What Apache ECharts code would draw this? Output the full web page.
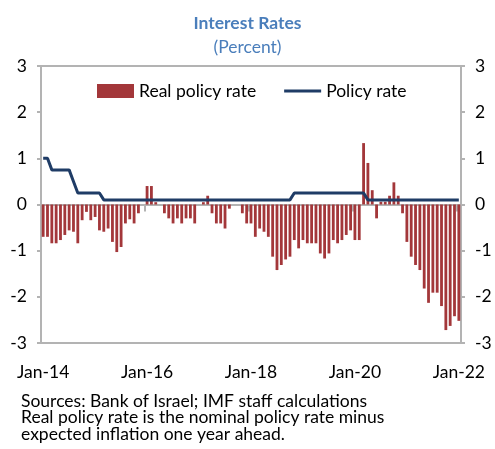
<!DOCTYPE html>
<html>
<head>
<meta charset="utf-8">
<script src="https://cdn.jsdelivr.net/npm/echarts@6/dist/echarts.min.js"></script>
<style>
html,body{margin:0;padding:0;background:#fff;}
#chart{width:495px;height:449px;}
</style>
</head>
<body>
<div id="chart"></div>
<script>
// Monthly categories Jan-14 .. Jan-22
var monthNames = ["Jan","Feb","Mar","Apr","May","Jun","Jul","Aug","Sep","Oct","Nov","Dec"];
var startYear = 14, endYear = 22;
var categories = [];
for (var y = startYear; y <= endYear; y++) {
  for (var m = 0; m < 12; m++) {
    if (y === endYear && m > 0) break;
    categories.push(monthNames[m] + "-" + y);
  }
}
var tickLabels = ["Jan-14","Jan-16","Jan-18","Jan-20","Jan-22"];

var realPolicyRate = [
  -0.70,-0.70,-0.84,-0.84,-0.77,-0.66,-0.56,-0.59,-0.84,-0.34,-0.16,-0.34,
  -0.27,-0.56,-0.59,-0.52,-0.81,-1.03,-0.92,-0.41,-0.32,-0.41,-0.19,0,
  0.40,0.40,0.05,0,-0.19,-0.30,-0.41,-0.30,-0.41,-0.30,-0.30,-0.41,
  0,0.05,0.19,-0.19,-0.41,-0.41,-0.52,-0.09,0,0,-0.19,-0.41,
  -0.41,-0.70,-0.52,-0.59,-0.70,-1.13,-1.42,-1.31,-1.19,-1.13,-0.77,-0.95,
  -0.77,-0.84,-0.84,-0.84,-1.06,-1.17,-1.06,-0.77,-0.84,-0.77,-0.66,-0.56,
  -0.77,-0.77,1.33,0.90,0.31,-0.30,0.06,0.06,0.19,0.48,0.19,-0.19,
  -0.81,-1.13,-1.31,-1.42,-1.82,-2.13,-1.91,-1.91,-2.20,-2.72,-2.63,-2.42,
  -2.52
];

var policyRate = [
  1.00,1.00,0.75,0.75,0.75,0.75,0.75,0.50,0.25,0.25,0.25,0.25,
  0.25,0.25,0.10,0.10,0.10,0.10,0.10,0.10,0.10,0.10,0.10,0.10,
  0.10,0.10,0.10,0.10,0.10,0.10,0.10,0.10,0.10,0.10,0.10,0.10,
  0.10,0.10,0.10,0.10,0.10,0.10,0.10,0.10,0.10,0.10,0.10,0.10,
  0.10,0.10,0.10,0.10,0.10,0.10,0.10,0.10,0.10,0.10,0.25,0.25,
  0.25,0.25,0.25,0.25,0.25,0.25,0.25,0.25,0.25,0.25,0.25,0.25,
  0.25,0.25,0.25,0.10,0.10,0.10,0.10,0.10,0.10,0.10,0.10,0.10,
  0.10,0.10,0.10,0.10,0.10,0.10,0.10,0.10,0.10,0.10,0.10,0.10,
  0.10
];

var FONT = "Lato";
var FS = 17.5;
var axisGrey = "#b3b3b3";
var chart = echarts.init(document.getElementById("chart"), null, {renderer: "canvas"});

var yAxisCommon = {
  type: "value", min: -3, max: 3, interval: 1,
  axisLine: {show: true, lineStyle: {color: axisGrey, width: 2}},
  axisTick: {show: true, length: 4, lineStyle: {color: axisGrey, width: 2}},
  splitLine: {show: false},
  axisLabel: {color: "#000", fontSize: FS, fontFamily: FONT, margin: 14}
};

chart.setOption({
  animation: false,
  textStyle: {fontFamily: FONT},
  graphic: [
    {type: "text", left: "center", top: 14, style: {text: "Interest Rates", font: "bold " + FS + "px " + FONT, fill: "#4a7ebb"}},
    {type: "text", left: "center", top: 38, style: {text: "(Percent)", font: FS + "px " + FONT, fill: "#4a7ebb"}},
    {type: "text", left: 21, top: 392, style: {text: "Sources: Bank of Israel; IMF staff calculations", font: FS + "px " + FONT, fill: "#000"}},
    {type: "text", left: 21, top: 408.5, style: {text: "Real policy rate is the nominal policy rate minus", font: FS + "px " + FONT, fill: "#000"}},
    {type: "text", left: 21, top: 425, style: {text: "expected inflation one year ahead.", font: FS + "px " + FONT, fill: "#000"}}
  ],
  legend: {
    left: 92, top: 77,
    itemGap: 28, itemWidth: 37, itemHeight: 14,
    textStyle: {fontSize: FS, fontFamily: FONT, color: "#000"},
    data: [
      {name: "Real policy rate", icon: "rect"},
      {name: "Policy rate", icon: "path://M0,0 L37,0 L37,3 L0,3 Z"}
    ]
  },
  grid: {
    left: 41, right: 34, top: 66, bottom: 106,
    show: true, borderColor: axisGrey, borderWidth: 2, backgroundColor: "transparent"
  },
  xAxis: [
    {
      type: "category", data: categories, boundaryGap: true,
      axisLine: {onZero: true, lineStyle: {color: axisGrey, width: 2}},
      axisTick: {show: true, interval: 23, length: 7, lineStyle: {color: axisGrey, width: 2}},
      axisLabel: {show: false}
    },
    {
      type: "category", data: categories, boundaryGap: true, position: "bottom",
      axisLine: {show: false, onZero: false},
      axisTick: {show: false},
      axisLabel: {
        interval: 23, fontSize: FS, fontFamily: FONT, color: "#000", margin: 20,
        formatter: function (v) { return tickLabels.indexOf(v) >= 0 ? v : ""; }
      }
    }
  ],
  yAxis: [
    Object.assign({position: "left"}, yAxisCommon),
    Object.assign({position: "right"}, yAxisCommon)
  ],
  series: [
    {
      name: "Real policy rate", type: "bar", xAxisIndex: 0, yAxisIndex: 0,
      data: realPolicyRate, barCategoryGap: "35%",
      itemStyle: {color: "#a3373a"}
    },
    {
      name: "Policy rate", type: "line", xAxisIndex: 0, yAxisIndex: 0,
      data: policyRate, symbol: "none",
      lineStyle: {color: "#1f3c66", width: 3},
      itemStyle: {color: "#1f3c66"}
    }
  ]
});
</script>
</body>
</html>
